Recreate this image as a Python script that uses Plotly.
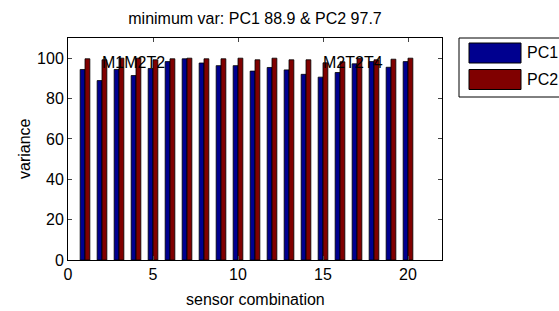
import plotly.graph_objects as go

combos = list(range(1, 21))
pc1 = [94.4, 88.9, 94.4, 91.4, 94.9, 98.3, 99.7, 97.6, 96.3, 96.3,
       93.6, 95.4, 94.2, 92.0, 90.6, 92.9, 97.2, 98.3, 95.5, 98.3]
pc2 = [99.7, 99.2, 100.0, 100.0, 99.2, 99.7, 100.0, 99.7, 99.7, 100.0,
       99.2, 100.0, 99.2, 99.2, 97.7, 98.2, 99.8, 99.2, 99.5, 100.0]
labels = ["M1M2T2", "M2T2T4"]
label_x = [2, 15]
label_y = [97.7, 97.7]
series_names = ["PC1", "PC2"]
colors = ["#00008F", "#800000"]
xticks = [0, 5, 10, 15, 20]
yticks = [0, 20, 40, 60, 80, 100]
title = "minimum var: PC1 88.9 & PC2 97.7"

FONT = "Liberation Sans, Arial, sans-serif"
FS = 16

fig = go.Figure()
for name, vals, col in zip(series_names, [pc1, pc2], colors):
    fig.add_trace(go.Bar(x=combos, y=vals, name=name, marker_color=col,
                         marker_line_color="black", marker_line_width=0.8,
                         showlegend=False))

for t, x, y in zip(labels, label_x, label_y):
    fig.add_annotation(x=x, y=y, text=t, showarrow=False, xanchor="left",
                       yanchor="middle", xshift=-2,
                       font=dict(size=FS, color="black", family=FONT))

# plot area in pixels: x 68..442, y 38..260
def px_x(p):
    return (p - 68) / 374.0

def px_y(p):
    return (260 - p) / 222.0

# manual legend (MATLAB style)
fig.add_shape(type="rect", xref="paper", yref="paper", x0=px_x(459), x1=px_x(600),
              y0=px_y(97), y1=px_y(38), line=dict(color="black", width=1),
              fillcolor="white", layer="above")
for i, (name, col) in enumerate(zip(series_names, colors)):
    top = 43 + i * 26.5
    fig.add_shape(type="rect", xref="paper", yref="paper", x0=px_x(469), x1=px_x(521),
                  y0=px_y(top + 20), y1=px_y(top), line=dict(color="black", width=1),
                  fillcolor=col, layer="above")
    fig.add_annotation(xref="paper", yref="paper", x=px_x(525), y=px_y(top + 10),
                       text=name, showarrow=False, xanchor="left", yanchor="middle",
                       font=dict(size=FS, color="black", family=FONT))

# axis labels
fig.add_annotation(xref="paper", yref="paper", x=0.5, y=px_y(299), text="sensor combination",
                   showarrow=False, xanchor="center", yanchor="middle",
                   font=dict(size=FS, color="black", family=FONT))
fig.add_annotation(xref="paper", yref="paper", x=px_x(24), y=0.5, text="variance",
                   showarrow=False, xanchor="center", yanchor="middle", textangle=-90,
                   font=dict(size=FS, color="black", family=FONT))

fig.update_layout(
    width=559, height=311,
    margin=dict(l=68, r=117, t=38, b=51),
    paper_bgcolor="white", plot_bgcolor="white",
    barmode="group", bargap=0.43, bargroupgap=0.0,
    font=dict(family=FONT, size=FS, color="black"),
    title=dict(text=title, x=(68 + 442) / 2 / 559, xanchor="center",
               y=1 - 18 / 311, yanchor="middle", font=dict(size=FS, family=FONT)),
    xaxis=dict(range=[0, 22], tickvals=xticks, ticks="inside", ticklen=4,
               showline=True, linecolor="black", linewidth=1, mirror="ticks",
               showgrid=False, zeroline=False, automargin=False),
    yaxis=dict(range=[0, 110], tickvals=yticks, ticks="inside", ticklen=4,
               showline=True, linecolor="black", linewidth=1, mirror="ticks",
               showgrid=False, zeroline=False, automargin=False),
)

fig.write_html("out.html", config={"displayModeBar": False},
               post_script="document.body.style.margin='0';")
